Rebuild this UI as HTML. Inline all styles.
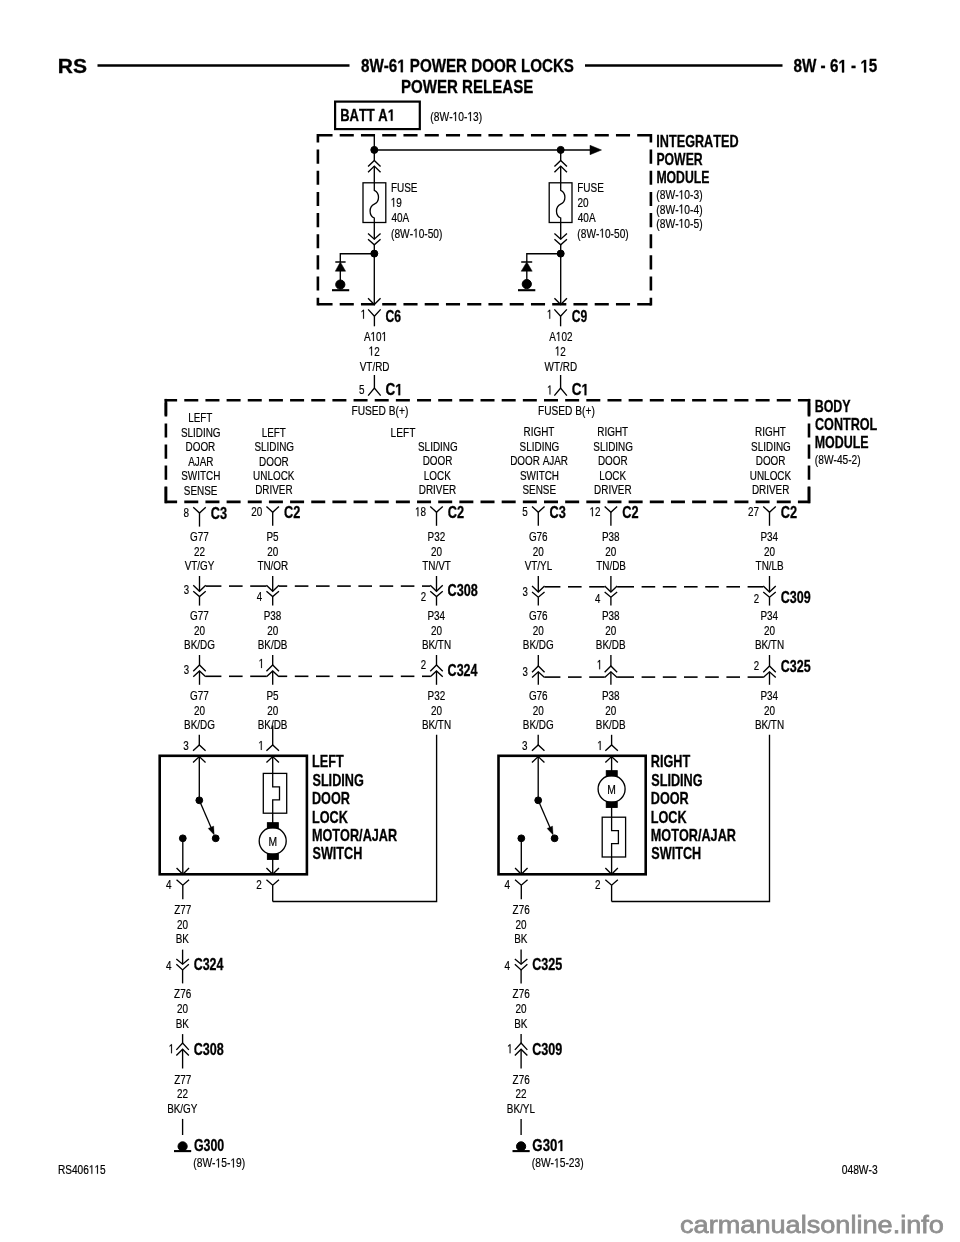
<!DOCTYPE html>
<html><head><meta charset="utf-8"><style>
html,body{margin:0;padding:0;background:#fff;width:960px;height:1242px;overflow:hidden}
svg{display:block;will-change:transform}
line,polyline,polygon,rect,path,circle{stroke:#000;stroke-linecap:butt}
text{font-family:"Liberation Sans",sans-serif;font-kerning:none;fill:#000;stroke:none}
g.r text{stroke:#000;stroke-width:0.2px}
g.b text{font-weight:bold;stroke:#000;stroke-width:0.3px}
path.one{fill:#000;stroke:none}
g.b path.one{stroke:#000;stroke-width:34px}
g.r path.one{stroke:#000;stroke-width:32px}
g.w text{fill:#8f8f8f;stroke:#8f8f8f;stroke-width:0.75px}
</style></head><body>
<svg width="960" height="1242" viewBox="0 0 960 1242">
<g class="b" transform="translate(57.79,72.6) scale(1.0790,1)"><text font-size="19.5">RS</text></g>
<line x1="97.5" y1="65.5" x2="349.5" y2="65.5" stroke-width="2.6"/>
<line x1="585" y1="65.5" x2="782.5" y2="65.5" stroke-width="2.6"/>
<g class="b" transform="translate(361.02,72.2) scale(0.8329,1)"><text font-size="18.2">8W-6  POWER DOOR LOCKS</text><path class="one" d="M478,0 L478,-1170 L140,-959 L140,-1180 L493,-1409 L759,-1409 L759,0Z" transform="translate(43.48,0) scale(0.008887)"/></g>
<g class="b" transform="translate(400.89,93.4) scale(0.8293,1)"><text font-size="18.2">POWER RELEASE</text></g>
<g class="b" transform="translate(793.52,72.4) scale(0.8379,1)"><text font-size="18.2">8W - 6  -  5</text><path class="one" d="M478,0 L478,-1170 L140,-959 L140,-1180 L493,-1409 L759,-1409 L759,0Z" transform="translate(53.6,0) scale(0.008887)"/><path class="one" d="M478,0 L478,-1170 L140,-959 L140,-1180 L493,-1409 L759,-1409 L759,0Z" transform="translate(79.89,0) scale(0.008887)"/></g>
<rect x="335.1" y="101.6" width="84.7" height="27.5" stroke-width="2.2" fill="none"/>
<g class="b" transform="translate(340.13,120.7) scale(0.7974,1)"><text font-size="16.3">BATT A </text><path class="one" d="M478,0 L478,-1170 L140,-959 L140,-1180 L493,-1409 L759,-1409 L759,0Z" transform="translate(59.76,0) scale(0.007959)"/></g>
<g class="r" transform="translate(430.36,121) scale(0.7952,1)"><text font-size="12.9">(8W- 0- 3)</text><path class="one" d="M515,0 L515,-1237 L197,-1010 L197,-1180 L530,-1409 L696,-1409 L696,0Z" transform="translate(27.94,0) scale(0.006299)"/><path class="one" d="M515,0 L515,-1237 L197,-1010 L197,-1180 L530,-1409 L696,-1409 L696,0Z" transform="translate(46.59,0) scale(0.006299)"/></g>
<line x1="316.6" y1="135.3" x2="652.2" y2="135.3" stroke-width="2.6" stroke-dasharray="14.1 7.15" stroke-dashoffset="19.40"/>
<line x1="316.6" y1="304.3" x2="652.2" y2="304.3" stroke-width="2.6" stroke-dasharray="14.1 7.15" stroke-dashoffset="19.40"/>
<line x1="317.9" y1="134" x2="317.9" y2="305.6" stroke-width="2.6" stroke-dasharray="14.1 7.05" stroke-dashoffset="5.55"/>
<line x1="650.9" y1="134" x2="650.9" y2="305.6" stroke-width="2.6" stroke-dasharray="14.1 7.05" stroke-dashoffset="5.55"/>
<line x1="374.3" y1="135.3" x2="374.3" y2="150" stroke-width="1.35"/>
<line x1="374.3" y1="150" x2="590" y2="150" stroke-width="1.35"/>
<polygon points="590,145.3 601.5,150 590,154.7" stroke-width="0.5" fill="#000"/>
<circle cx="374.3" cy="149.9" r="3.5" fill="#000" stroke="none"/>
<circle cx="560.7" cy="149.9" r="3.5" fill="#000" stroke="none"/>
<line x1="374.3" y1="150" x2="374.3" y2="160.4" stroke-width="1.35"/>
<line x1="374.3" y1="166.1" x2="374.3" y2="182.8" stroke-width="1.35"/>
<polyline points="368.05,166.6 374.3,160.4 380.55,166.6" stroke-width="1.35" fill="none"/>
<polyline points="368.05,172.3 374.3,166.1 380.55,172.3" stroke-width="1.35" fill="none"/>
<rect x="363" y="182.8" width="22.8" height="39.7" stroke-width="1.3" fill="none"/>
<path d="M374.3,182.8 V190.3 C379.9,192.9 379.9,201.5 374.3,204.2 C368.7,206.9 368.7,215.4 374.3,218 V222.5" stroke-width="1.3" fill="none" />
<line x1="374.3" y1="222.5" x2="374.3" y2="239.2" stroke-width="1.35"/>
<line x1="374.3" y1="244.8" x2="374.3" y2="304.3" stroke-width="1.35"/>
<polyline points="368.05,233.5 374.3,239.2 380.55,233.5" stroke-width="1.35" fill="none"/>
<polyline points="368.05,239.2 374.3,244.8 380.55,239.2" stroke-width="1.35" fill="none"/>
<circle cx="374.3" cy="253.6" r="3.5" fill="#000" stroke="none"/>
<polyline points="374.3,253.7 340.3,253.7 340.3,262" stroke-width="1.35" fill="none"/>
<line x1="335.3" y1="262" x2="345.6" y2="262" stroke-width="1.5"/>
<polygon points="340.3,262 335.3,271.2 345.6,271.2" stroke-width="0.5" fill="#000"/>
<line x1="340.3" y1="271" x2="340.3" y2="284" stroke-width="1.35"/>
<circle cx="340.3" cy="284.6" r="4.6" fill="#000" stroke="none"/>
<line x1="332" y1="290.2" x2="349.2" y2="290.2" stroke-width="2.1"/>
<polyline points="368.05,298.2 374.3,304.5 380.55,298.2" stroke-width="1.35" fill="none"/>
<g class="r" transform="translate(390.88,192) scale(0.7750,1)"><text font-size="12.9">FUSE</text></g>
<g class="r" transform="translate(390.74,206.8) scale(0.7750,1)"><text font-size="12.9"> 9</text><path class="one" d="M515,0 L515,-1237 L197,-1010 L197,-1180 L530,-1409 L696,-1409 L696,0Z" transform="translate(0,0) scale(0.006299)"/></g>
<g class="r" transform="translate(391.47,222) scale(0.7750,1)"><text font-size="12.9">40A</text></g>
<g class="r" transform="translate(391.07,237.6) scale(0.7874,1)"><text font-size="12.9">(8W- 0-50)</text><path class="one" d="M515,0 L515,-1237 L197,-1010 L197,-1180 L530,-1409 L696,-1409 L696,0Z" transform="translate(27.94,0) scale(0.006299)"/></g>
<line x1="560.7" y1="150" x2="560.7" y2="160.4" stroke-width="1.35"/>
<line x1="560.7" y1="166.1" x2="560.7" y2="182.8" stroke-width="1.35"/>
<polyline points="554.45,166.6 560.7,160.4 566.95,166.6" stroke-width="1.35" fill="none"/>
<polyline points="554.45,172.3 560.7,166.1 566.95,172.3" stroke-width="1.35" fill="none"/>
<rect x="549.2" y="182.8" width="22.8" height="39.7" stroke-width="1.3" fill="none"/>
<path d="M560.7,182.8 V190.3 C566.3,192.9 566.3,201.5 560.7,204.2 C555.1,206.9 555.1,215.4 560.7,218 V222.5" stroke-width="1.3" fill="none" />
<line x1="560.7" y1="222.5" x2="560.7" y2="239.2" stroke-width="1.35"/>
<line x1="560.7" y1="244.8" x2="560.7" y2="304.3" stroke-width="1.35"/>
<polyline points="554.45,233.5 560.7,239.2 566.95,233.5" stroke-width="1.35" fill="none"/>
<polyline points="554.45,239.2 560.7,244.8 566.95,239.2" stroke-width="1.35" fill="none"/>
<circle cx="560.7" cy="253.6" r="3.5" fill="#000" stroke="none"/>
<polyline points="560.7,253.7 526.8,253.7 526.8,262" stroke-width="1.35" fill="none"/>
<line x1="521.2" y1="262" x2="532.2" y2="262" stroke-width="1.5"/>
<polygon points="526.8,262 521.2,271.2 532.2,271.2" stroke-width="0.5" fill="#000"/>
<line x1="526.8" y1="271" x2="526.8" y2="284" stroke-width="1.35"/>
<circle cx="526.8" cy="284.1" r="4.6" fill="#000" stroke="none"/>
<line x1="518" y1="290.2" x2="535.3" y2="290.2" stroke-width="2.1"/>
<polyline points="554.45,298.2 560.7,304.5 566.95,298.2" stroke-width="1.35" fill="none"/>
<g class="r" transform="translate(577.18,192) scale(0.7750,1)"><text font-size="12.9">FUSE</text></g>
<g class="r" transform="translate(577.5,206.8) scale(0.7750,1)"><text font-size="12.9">20</text></g>
<g class="r" transform="translate(577.77,222) scale(0.7750,1)"><text font-size="12.9">40A</text></g>
<g class="r" transform="translate(577.37,237.6) scale(0.7874,1)"><text font-size="12.9">(8W- 0-50)</text><path class="one" d="M515,0 L515,-1237 L197,-1010 L197,-1180 L530,-1409 L696,-1409 L696,0Z" transform="translate(27.94,0) scale(0.006299)"/></g>
<g class="b" transform="translate(656.35,146.6) scale(0.7766,1)"><text font-size="16.3">INTEGRATED</text></g>
<g class="b" transform="translate(656.38,164.7) scale(0.7520,1)"><text font-size="16.3">POWER</text></g>
<g class="b" transform="translate(656.38,182.6) scale(0.7520,1)"><text font-size="16.3">MODULE</text></g>
<g class="r" transform="translate(656.36,199.2) scale(0.7971,1)"><text font-size="12.9">(8W- 0-3)</text><path class="one" d="M515,0 L515,-1237 L197,-1010 L197,-1180 L530,-1409 L696,-1409 L696,0Z" transform="translate(27.94,0) scale(0.006299)"/></g>
<g class="r" transform="translate(656.36,213.5) scale(0.7971,1)"><text font-size="12.9">(8W- 0-4)</text><path class="one" d="M515,0 L515,-1237 L197,-1010 L197,-1180 L530,-1409 L696,-1409 L696,0Z" transform="translate(27.94,0) scale(0.006299)"/></g>
<g class="r" transform="translate(656.36,227.8) scale(0.7971,1)"><text font-size="12.9">(8W- 0-5)</text><path class="one" d="M515,0 L515,-1237 L197,-1010 L197,-1180 L530,-1409 L696,-1409 L696,0Z" transform="translate(27.94,0) scale(0.006299)"/></g>
<polyline points="368.15,309.4 374.4,316.3 380.65,309.4" stroke-width="1.35" fill="none"/>
<line x1="374.4" y1="316.3" x2="374.4" y2="326.3" stroke-width="1.35"/>
<g class="r" transform="translate(360.63,318.7) scale(0.7690,1)"><text font-size="12.9"> </text><path class="one" d="M515,0 L515,-1237 L197,-1010 L197,-1180 L530,-1409 L696,-1409 L696,0Z" transform="translate(0,0) scale(0.006299)"/></g>
<g class="b" transform="translate(385.5,321.8) scale(0.7450,1)"><text font-size="16.3">C6</text></g>
<g class="r" transform="translate(363.88,341) scale(0.7690,1)"><text font-size="12.9">A 0 </text><path class="one" d="M515,0 L515,-1237 L197,-1010 L197,-1180 L530,-1409 L696,-1409 L696,0Z" transform="translate(8.6,0) scale(0.006299)"/><path class="one" d="M515,0 L515,-1237 L197,-1010 L197,-1180 L530,-1409 L696,-1409 L696,0Z" transform="translate(22.95,0) scale(0.006299)"/></g>
<g class="r" transform="translate(368.66,355.5) scale(0.7690,1)"><text font-size="12.9"> 2</text><path class="one" d="M515,0 L515,-1237 L197,-1010 L197,-1180 L530,-1409 L696,-1409 L696,0Z" transform="translate(0,0) scale(0.006299)"/></g>
<g class="r" transform="translate(359.74,370.5) scale(0.7690,1)"><text font-size="12.9">VT/RD</text></g>
<polyline points="368.15,395.6 374.4,388 380.65,395.6" stroke-width="1.35" fill="none"/>
<line x1="374.4" y1="375" x2="374.4" y2="388" stroke-width="1.35"/>
<g class="r" transform="translate(359.1,394.4) scale(0.7690,1)"><text font-size="12.9">5</text></g>
<g class="b" transform="translate(385.45,395.2) scale(0.8283,1)"><text font-size="16.3">C </text><path class="one" d="M478,0 L478,-1170 L140,-959 L140,-1180 L493,-1409 L759,-1409 L759,0Z" transform="translate(11.77,0) scale(0.007959)"/></g>
<polyline points="554.35,309.4 560.6,316.3 566.85,309.4" stroke-width="1.35" fill="none"/>
<line x1="560.6" y1="316.3" x2="560.6" y2="326.3" stroke-width="1.35"/>
<g class="r" transform="translate(546.83,318.7) scale(0.7690,1)"><text font-size="12.9"> </text><path class="one" d="M515,0 L515,-1237 L197,-1010 L197,-1180 L530,-1409 L696,-1409 L696,0Z" transform="translate(0,0) scale(0.006299)"/></g>
<g class="b" transform="translate(571.7,321.8) scale(0.7450,1)"><text font-size="16.3">C9</text></g>
<g class="r" transform="translate(549.26,341) scale(0.7690,1)"><text font-size="12.9">A 02</text><path class="one" d="M515,0 L515,-1237 L197,-1010 L197,-1180 L530,-1409 L696,-1409 L696,0Z" transform="translate(8.6,0) scale(0.006299)"/></g>
<g class="r" transform="translate(554.86,355.5) scale(0.7690,1)"><text font-size="12.9"> 2</text><path class="one" d="M515,0 L515,-1237 L197,-1010 L197,-1180 L530,-1409 L696,-1409 L696,0Z" transform="translate(0,0) scale(0.006299)"/></g>
<g class="r" transform="translate(544.56,370.5) scale(0.7690,1)"><text font-size="12.9">WT/RD</text></g>
<polyline points="554.35,395.6 560.6,388 566.85,395.6" stroke-width="1.35" fill="none"/>
<line x1="560.6" y1="375" x2="560.6" y2="388" stroke-width="1.35"/>
<g class="r" transform="translate(547.03,394.4) scale(0.7690,1)"><text font-size="12.9"> </text><path class="one" d="M515,0 L515,-1237 L197,-1010 L197,-1180 L530,-1409 L696,-1409 L696,0Z" transform="translate(0,0) scale(0.006299)"/></g>
<g class="b" transform="translate(571.65,395.2) scale(0.8283,1)"><text font-size="16.3">C </text><path class="one" d="M478,0 L478,-1170 L140,-959 L140,-1180 L493,-1409 L759,-1409 L759,0Z" transform="translate(11.77,0) scale(0.007959)"/></g>
<g class="r" transform="translate(351.41,415) scale(0.7909,1)"><text font-size="12.9">FUSED B(+)</text></g>
<g class="r" transform="translate(537.96,415) scale(0.7895,1)"><text font-size="12.9">FUSED B(+)</text></g>
<line x1="164.6" y1="400.2" x2="810.3" y2="400.2" stroke-width="2.6" stroke-dasharray="14 7.16" stroke-dashoffset="1.48"/>
<line x1="164.6" y1="501.9" x2="810.3" y2="501.9" stroke-width="2.6" stroke-dasharray="14 7.16" stroke-dashoffset="1.48"/>
<line x1="165.9" y1="398.9" x2="165.9" y2="503.2" stroke-width="2.6" stroke-dasharray="14.1 6.95" stroke-dashoffset="17.50"/>
<line x1="809" y1="398.9" x2="809" y2="503.2" stroke-width="2.6" stroke-dasharray="14.1 6.95" stroke-dashoffset="17.50"/>
<line x1="165.9" y1="398.9" x2="165.9" y2="415.4" stroke-width="2.6"/>
<line x1="165.9" y1="486.6" x2="165.9" y2="503.2" stroke-width="2.6"/>
<line x1="809" y1="398.9" x2="809" y2="415.4" stroke-width="2.6"/>
<line x1="809" y1="486.6" x2="809" y2="503.2" stroke-width="2.6"/>
<g class="r" transform="translate(188.18,422.3) scale(0.7690,1)"><text font-size="12.9">LEFT</text></g>
<g class="r" transform="translate(180.9,436.75) scale(0.7690,1)"><text font-size="12.9">SLIDING</text></g>
<g class="r" transform="translate(185.54,451.2) scale(0.7690,1)"><text font-size="12.9">DOOR</text></g>
<g class="r" transform="translate(188.14,465.65) scale(0.7690,1)"><text font-size="12.9">AJAR</text></g>
<g class="r" transform="translate(181.22,480.1) scale(0.7690,1)"><text font-size="12.9">SWITCH</text></g>
<g class="r" transform="translate(183.77,494.55) scale(0.7690,1)"><text font-size="12.9">SENSE</text></g>
<g class="r" transform="translate(261.68,436.6) scale(0.7690,1)"><text font-size="12.9">LEFT</text></g>
<g class="r" transform="translate(254.4,451.05) scale(0.7690,1)"><text font-size="12.9">SLIDING</text></g>
<g class="r" transform="translate(259.04,465.5) scale(0.7690,1)"><text font-size="12.9">DOOR</text></g>
<g class="r" transform="translate(253.1,479.95) scale(0.7690,1)"><text font-size="12.9">UNLOCK</text></g>
<g class="r" transform="translate(255.18,494.4) scale(0.7690,1)"><text font-size="12.9">DRIVER</text></g>
<g class="r" transform="translate(390.57,436.6) scale(0.7885,1)"><text font-size="12.9">LEFT</text></g>
<g class="r" transform="translate(418,450.9) scale(0.7690,1)"><text font-size="12.9">SLIDING</text></g>
<g class="r" transform="translate(422.64,465.35) scale(0.7690,1)"><text font-size="12.9">DOOR</text></g>
<g class="r" transform="translate(423.84,479.8) scale(0.7690,1)"><text font-size="12.9">LOCK</text></g>
<g class="r" transform="translate(418.78,494.25) scale(0.7690,1)"><text font-size="12.9">DRIVER</text></g>
<g class="r" transform="translate(523.58,436.3) scale(0.7690,1)"><text font-size="12.9">RIGHT</text></g>
<g class="r" transform="translate(519.6,450.75) scale(0.7690,1)"><text font-size="12.9">SLIDING</text></g>
<g class="r" transform="translate(510.19,465.2) scale(0.7690,1)"><text font-size="12.9">DOOR AJAR</text></g>
<g class="r" transform="translate(519.92,479.65) scale(0.7690,1)"><text font-size="12.9">SWITCH</text></g>
<g class="r" transform="translate(522.47,494.1) scale(0.7690,1)"><text font-size="12.9">SENSE</text></g>
<g class="r" transform="translate(597.28,436.3) scale(0.7690,1)"><text font-size="12.9">RIGHT</text></g>
<g class="r" transform="translate(593.3,450.75) scale(0.7690,1)"><text font-size="12.9">SLIDING</text></g>
<g class="r" transform="translate(597.94,465.2) scale(0.7690,1)"><text font-size="12.9">DOOR</text></g>
<g class="r" transform="translate(599.14,479.65) scale(0.7690,1)"><text font-size="12.9">LOCK</text></g>
<g class="r" transform="translate(594.08,494.1) scale(0.7690,1)"><text font-size="12.9">DRIVER</text></g>
<g class="r" transform="translate(755.08,436.3) scale(0.7690,1)"><text font-size="12.9">RIGHT</text></g>
<g class="r" transform="translate(751.1,450.75) scale(0.7690,1)"><text font-size="12.9">SLIDING</text></g>
<g class="r" transform="translate(755.74,465.2) scale(0.7690,1)"><text font-size="12.9">DOOR</text></g>
<g class="r" transform="translate(749.8,479.65) scale(0.7690,1)"><text font-size="12.9">UNLOCK</text></g>
<g class="r" transform="translate(751.88,494.1) scale(0.7690,1)"><text font-size="12.9">DRIVER</text></g>
<g class="b" transform="translate(814.67,411.7) scale(0.7640,1)"><text font-size="16.3">BODY</text></g>
<g class="b" transform="translate(814.98,429.9) scale(0.7744,1)"><text font-size="16.3">CONTROL</text></g>
<g class="b" transform="translate(814.67,447.6) scale(0.7640,1)"><text font-size="16.3">MODULE</text></g>
<g class="r" transform="translate(814.87,464.1) scale(0.7882,1)"><text font-size="12.9">(8W-45-2)</text></g>
<polyline points="193.25,507.2 199.5,513.1 205.75,507.2" stroke-width="1.35" fill="none"/>
<line x1="199.5" y1="513.1" x2="199.5" y2="526.6" stroke-width="1.35"/>
<g class="r" transform="translate(183.51,517) scale(0.7690,1)"><text font-size="12.9">8</text></g>
<g class="b" transform="translate(210.78,519.2) scale(0.7814,1)"><text font-size="16.3">C3</text></g>
<polyline points="266.45,506.4 272.7,512.3 278.95,506.4" stroke-width="1.35" fill="none"/>
<line x1="272.7" y1="512.3" x2="272.7" y2="525.8" stroke-width="1.35"/>
<g class="r" transform="translate(251.15,516.2) scale(0.7690,1)"><text font-size="12.9">20</text></g>
<g class="b" transform="translate(283.98,518.4) scale(0.7840,1)"><text font-size="16.3">C2</text></g>
<polyline points="430.25,506.4 436.5,512.3 442.75,506.4" stroke-width="1.35" fill="none"/>
<line x1="436.5" y1="512.3" x2="436.5" y2="525.8" stroke-width="1.35"/>
<g class="r" transform="translate(415,516.2) scale(0.7690,1)"><text font-size="12.9"> 8</text><path class="one" d="M515,0 L515,-1237 L197,-1010 L197,-1180 L530,-1409 L696,-1409 L696,0Z" transform="translate(0,0) scale(0.006299)"/></g>
<g class="b" transform="translate(447.78,518.4) scale(0.7840,1)"><text font-size="16.3">C2</text></g>
<polyline points="532.05,506.4 538.3,512.3 544.55,506.4" stroke-width="1.35" fill="none"/>
<line x1="538.3" y1="512.3" x2="538.3" y2="525.8" stroke-width="1.35"/>
<g class="r" transform="translate(522.3,516.2) scale(0.7690,1)"><text font-size="12.9">5</text></g>
<g class="b" transform="translate(549.58,518.4) scale(0.7814,1)"><text font-size="16.3">C3</text></g>
<polyline points="604.65,506.4 610.9,512.3 617.15,506.4" stroke-width="1.35" fill="none"/>
<line x1="610.9" y1="512.3" x2="610.9" y2="525.8" stroke-width="1.35"/>
<g class="r" transform="translate(589.46,516.2) scale(0.7690,1)"><text font-size="12.9"> 2</text><path class="one" d="M515,0 L515,-1237 L197,-1010 L197,-1180 L530,-1409 L696,-1409 L696,0Z" transform="translate(0,0) scale(0.006299)"/></g>
<g class="b" transform="translate(622.18,518.4) scale(0.7840,1)"><text font-size="16.3">C2</text></g>
<polyline points="763.25,506.4 769.5,512.3 775.75,506.4" stroke-width="1.35" fill="none"/>
<line x1="769.5" y1="512.3" x2="769.5" y2="525.8" stroke-width="1.35"/>
<g class="r" transform="translate(748.06,516.2) scale(0.7690,1)"><text font-size="12.9">27</text></g>
<g class="b" transform="translate(780.78,518.4) scale(0.7840,1)"><text font-size="16.3">C2</text></g>
<g class="r" transform="translate(190.12,541.3) scale(0.7690,1)"><text font-size="12.9">G77</text></g>
<g class="r" transform="translate(193.98,556) scale(0.7690,1)"><text font-size="12.9">22</text></g>
<g class="r" transform="translate(184.7,570.2) scale(0.7690,1)"><text font-size="12.9">VT/GY</text></g>
<g class="r" transform="translate(266.43,541.3) scale(0.7690,1)"><text font-size="12.9">P5</text></g>
<g class="r" transform="translate(267.13,556) scale(0.7690,1)"><text font-size="12.9">20</text></g>
<g class="r" transform="translate(257.39,570.2) scale(0.7690,1)"><text font-size="12.9">TN/OR</text></g>
<g class="r" transform="translate(427.52,541.3) scale(0.7690,1)"><text font-size="12.9">P32</text></g>
<g class="r" transform="translate(430.93,556) scale(0.7690,1)"><text font-size="12.9">20</text></g>
<g class="r" transform="translate(422.17,570.2) scale(0.7690,1)"><text font-size="12.9">TN/VT</text></g>
<g class="r" transform="translate(528.89,541.3) scale(0.7690,1)"><text font-size="12.9">G76</text></g>
<g class="r" transform="translate(532.73,556) scale(0.7690,1)"><text font-size="12.9">20</text></g>
<g class="r" transform="translate(524.66,570.2) scale(0.7690,1)"><text font-size="12.9">VT/YL</text></g>
<g class="r" transform="translate(601.88,541.3) scale(0.7690,1)"><text font-size="12.9">P38</text></g>
<g class="r" transform="translate(605.33,556) scale(0.7690,1)"><text font-size="12.9">20</text></g>
<g class="r" transform="translate(596.17,570.2) scale(0.7690,1)"><text font-size="12.9">TN/DB</text></g>
<g class="r" transform="translate(760.41,541.3) scale(0.7690,1)"><text font-size="12.9">P34</text></g>
<g class="r" transform="translate(763.93,556) scale(0.7690,1)"><text font-size="12.9">20</text></g>
<g class="r" transform="translate(755.59,570.2) scale(0.7690,1)"><text font-size="12.9">TN/LB</text></g>
<g class="r" transform="translate(190.12,620.3) scale(0.7690,1)"><text font-size="12.9">G77</text></g>
<g class="r" transform="translate(193.93,635) scale(0.7690,1)"><text font-size="12.9">20</text></g>
<g class="r" transform="translate(184.03,649.4) scale(0.7690,1)"><text font-size="12.9">BK/DG</text></g>
<g class="r" transform="translate(263.68,620.3) scale(0.7690,1)"><text font-size="12.9">P38</text></g>
<g class="r" transform="translate(267.13,635) scale(0.7690,1)"><text font-size="12.9">20</text></g>
<g class="r" transform="translate(257.67,649.4) scale(0.7690,1)"><text font-size="12.9">BK/DB</text></g>
<g class="r" transform="translate(427.41,620.3) scale(0.7690,1)"><text font-size="12.9">P34</text></g>
<g class="r" transform="translate(430.93,635) scale(0.7690,1)"><text font-size="12.9">20</text></g>
<g class="r" transform="translate(421.89,649.4) scale(0.7690,1)"><text font-size="12.9">BK/TN</text></g>
<g class="r" transform="translate(528.89,620.3) scale(0.7690,1)"><text font-size="12.9">G76</text></g>
<g class="r" transform="translate(532.73,635) scale(0.7690,1)"><text font-size="12.9">20</text></g>
<g class="r" transform="translate(522.83,649.4) scale(0.7690,1)"><text font-size="12.9">BK/DG</text></g>
<g class="r" transform="translate(601.88,620.3) scale(0.7690,1)"><text font-size="12.9">P38</text></g>
<g class="r" transform="translate(605.33,635) scale(0.7690,1)"><text font-size="12.9">20</text></g>
<g class="r" transform="translate(595.87,649.4) scale(0.7690,1)"><text font-size="12.9">BK/DB</text></g>
<g class="r" transform="translate(760.41,620.3) scale(0.7690,1)"><text font-size="12.9">P34</text></g>
<g class="r" transform="translate(763.93,635) scale(0.7690,1)"><text font-size="12.9">20</text></g>
<g class="r" transform="translate(754.89,649.4) scale(0.7690,1)"><text font-size="12.9">BK/TN</text></g>
<g class="r" transform="translate(190.12,699.8) scale(0.7690,1)"><text font-size="12.9">G77</text></g>
<g class="r" transform="translate(193.93,714.5) scale(0.7690,1)"><text font-size="12.9">20</text></g>
<g class="r" transform="translate(184.03,728.9) scale(0.7690,1)"><text font-size="12.9">BK/DG</text></g>
<g class="r" transform="translate(266.43,699.8) scale(0.7690,1)"><text font-size="12.9">P5</text></g>
<g class="r" transform="translate(267.13,714.5) scale(0.7690,1)"><text font-size="12.9">20</text></g>
<g class="r" transform="translate(257.67,728.9) scale(0.7690,1)"><text font-size="12.9">BK/DB</text></g>
<g class="r" transform="translate(427.52,699.8) scale(0.7690,1)"><text font-size="12.9">P32</text></g>
<g class="r" transform="translate(430.93,714.5) scale(0.7690,1)"><text font-size="12.9">20</text></g>
<g class="r" transform="translate(421.89,728.9) scale(0.7690,1)"><text font-size="12.9">BK/TN</text></g>
<g class="r" transform="translate(528.89,699.8) scale(0.7690,1)"><text font-size="12.9">G76</text></g>
<g class="r" transform="translate(532.73,714.5) scale(0.7690,1)"><text font-size="12.9">20</text></g>
<g class="r" transform="translate(522.83,728.9) scale(0.7690,1)"><text font-size="12.9">BK/DG</text></g>
<g class="r" transform="translate(601.88,699.8) scale(0.7690,1)"><text font-size="12.9">P38</text></g>
<g class="r" transform="translate(605.33,714.5) scale(0.7690,1)"><text font-size="12.9">20</text></g>
<g class="r" transform="translate(595.87,728.9) scale(0.7690,1)"><text font-size="12.9">BK/DB</text></g>
<g class="r" transform="translate(760.41,699.8) scale(0.7690,1)"><text font-size="12.9">P34</text></g>
<g class="r" transform="translate(763.93,714.5) scale(0.7690,1)"><text font-size="12.9">20</text></g>
<g class="r" transform="translate(754.89,728.9) scale(0.7690,1)"><text font-size="12.9">BK/TN</text></g>
<line x1="199.5" y1="576" x2="199.5" y2="591.25" stroke-width="1.35"/>
<polyline points="193.25,585.35 199.5,591.25 205.75,585.35" stroke-width="1.35" fill="none"/>
<polyline points="193.25,591.25 199.5,596.5 205.75,591.25" stroke-width="1.35" fill="none"/>
<line x1="199.5" y1="596.5" x2="199.5" y2="605.6" stroke-width="1.35"/>
<line x1="272.7" y1="576" x2="272.7" y2="591.25" stroke-width="1.35"/>
<polyline points="266.45,585.35 272.7,591.25 278.95,585.35" stroke-width="1.35" fill="none"/>
<polyline points="266.45,591.25 272.7,596.5 278.95,591.25" stroke-width="1.35" fill="none"/>
<line x1="272.7" y1="596.5" x2="272.7" y2="605.6" stroke-width="1.35"/>
<line x1="436.5" y1="576" x2="436.5" y2="591.25" stroke-width="1.35"/>
<polyline points="430.25,585.35 436.5,591.25 442.75,585.35" stroke-width="1.35" fill="none"/>
<polyline points="430.25,591.25 436.5,596.5 442.75,591.25" stroke-width="1.35" fill="none"/>
<line x1="436.5" y1="596.5" x2="436.5" y2="605.6" stroke-width="1.35"/>
<line x1="538.3" y1="576" x2="538.3" y2="591.95" stroke-width="1.35"/>
<polyline points="532.05,586.05 538.3,591.95 544.55,586.05" stroke-width="1.35" fill="none"/>
<polyline points="532.05,591.95 538.3,597.2 544.55,591.95" stroke-width="1.35" fill="none"/>
<line x1="538.3" y1="597.2" x2="538.3" y2="605.6" stroke-width="1.35"/>
<line x1="610.9" y1="576" x2="610.9" y2="591.95" stroke-width="1.35"/>
<polyline points="604.65,586.05 610.9,591.95 617.15,586.05" stroke-width="1.35" fill="none"/>
<polyline points="604.65,591.95 610.9,597.2 617.15,591.95" stroke-width="1.35" fill="none"/>
<line x1="610.9" y1="597.2" x2="610.9" y2="605.6" stroke-width="1.35"/>
<line x1="769.5" y1="576" x2="769.5" y2="591.95" stroke-width="1.35"/>
<polyline points="763.25,586.05 769.5,591.95 775.75,586.05" stroke-width="1.35" fill="none"/>
<polyline points="763.25,591.95 769.5,597.2 775.75,591.95" stroke-width="1.35" fill="none"/>
<line x1="769.5" y1="597.2" x2="769.5" y2="605.6" stroke-width="1.35"/>
<polyline points="193.25,671.25 199.5,665.05 205.75,671.25" stroke-width="1.35" fill="none"/>
<line x1="199.5" y1="655" x2="199.5" y2="665.05" stroke-width="1.35"/>
<polyline points="193.25,676.7 199.5,670.9 205.75,676.7" stroke-width="1.35" fill="none"/>
<line x1="199.5" y1="670.9" x2="199.5" y2="684.8" stroke-width="1.35"/>
<polyline points="266.45,671.25 272.7,665.05 278.95,671.25" stroke-width="1.35" fill="none"/>
<line x1="272.7" y1="655" x2="272.7" y2="665.05" stroke-width="1.35"/>
<polyline points="266.45,676.7 272.7,670.9 278.95,676.7" stroke-width="1.35" fill="none"/>
<line x1="272.7" y1="670.9" x2="272.7" y2="684.8" stroke-width="1.35"/>
<polyline points="430.25,671.25 436.5,665.05 442.75,671.25" stroke-width="1.35" fill="none"/>
<line x1="436.5" y1="655" x2="436.5" y2="665.05" stroke-width="1.35"/>
<polyline points="430.25,676.7 436.5,670.9 442.75,676.7" stroke-width="1.35" fill="none"/>
<line x1="436.5" y1="670.9" x2="436.5" y2="684.8" stroke-width="1.35"/>
<polyline points="532.05,672.15 538.3,665.95 544.55,672.15" stroke-width="1.35" fill="none"/>
<line x1="538.3" y1="655" x2="538.3" y2="665.95" stroke-width="1.35"/>
<polyline points="532.05,677.6 538.3,671.8 544.55,677.6" stroke-width="1.35" fill="none"/>
<line x1="538.3" y1="671.8" x2="538.3" y2="684.8" stroke-width="1.35"/>
<polyline points="604.65,672.15 610.9,665.95 617.15,672.15" stroke-width="1.35" fill="none"/>
<line x1="610.9" y1="655" x2="610.9" y2="665.95" stroke-width="1.35"/>
<polyline points="604.65,677.6 610.9,671.8 617.15,677.6" stroke-width="1.35" fill="none"/>
<line x1="610.9" y1="671.8" x2="610.9" y2="684.8" stroke-width="1.35"/>
<polyline points="763.25,672.15 769.5,665.95 775.75,672.15" stroke-width="1.35" fill="none"/>
<line x1="769.5" y1="655" x2="769.5" y2="665.95" stroke-width="1.35"/>
<polyline points="763.25,677.6 769.5,671.8 775.75,677.6" stroke-width="1.35" fill="none"/>
<line x1="769.5" y1="671.8" x2="769.5" y2="684.8" stroke-width="1.35"/>
<line x1="205.75" y1="586.1" x2="221.4" y2="586.1" stroke-width="1.6"/>
<line x1="229" y1="586.1" x2="242.6" y2="586.1" stroke-width="1.6"/>
<line x1="250.2" y1="586.1" x2="266.45" y2="586.1" stroke-width="1.6"/>
<line x1="278.95" y1="586.1" x2="287.2" y2="586.1" stroke-width="1.6"/>
<line x1="294.8" y1="586.1" x2="308.4" y2="586.1" stroke-width="1.6"/>
<line x1="316" y1="586.1" x2="329.6" y2="586.1" stroke-width="1.6"/>
<line x1="337.2" y1="586.1" x2="350.8" y2="586.1" stroke-width="1.6"/>
<line x1="358.4" y1="586.1" x2="372" y2="586.1" stroke-width="1.6"/>
<line x1="379.6" y1="586.1" x2="393.2" y2="586.1" stroke-width="1.6"/>
<line x1="400.8" y1="586.1" x2="414.4" y2="586.1" stroke-width="1.6"/>
<line x1="422" y1="586.1" x2="430.25" y2="586.1" stroke-width="1.6"/>
<line x1="544.55" y1="586.8" x2="560.4" y2="586.8" stroke-width="1.6"/>
<line x1="568" y1="586.8" x2="581.6" y2="586.8" stroke-width="1.6"/>
<line x1="589.2" y1="586.8" x2="604.65" y2="586.8" stroke-width="1.6"/>
<line x1="617.15" y1="586.8" x2="634" y2="586.8" stroke-width="1.6"/>
<line x1="641.6" y1="586.8" x2="655.2" y2="586.8" stroke-width="1.6"/>
<line x1="662.8" y1="586.8" x2="676.4" y2="586.8" stroke-width="1.6"/>
<line x1="684" y1="586.8" x2="697.6" y2="586.8" stroke-width="1.6"/>
<line x1="705.2" y1="586.8" x2="718.8" y2="586.8" stroke-width="1.6"/>
<line x1="726.4" y1="586.8" x2="740" y2="586.8" stroke-width="1.6"/>
<line x1="747.6" y1="586.8" x2="763.25" y2="586.8" stroke-width="1.6"/>
<line x1="205.75" y1="676.3" x2="221.4" y2="676.3" stroke-width="1.6"/>
<line x1="229" y1="676.3" x2="242.6" y2="676.3" stroke-width="1.6"/>
<line x1="250.2" y1="676.3" x2="266.45" y2="676.3" stroke-width="1.6"/>
<line x1="278.95" y1="676.3" x2="287.2" y2="676.3" stroke-width="1.6"/>
<line x1="294.8" y1="676.3" x2="308.4" y2="676.3" stroke-width="1.6"/>
<line x1="316" y1="676.3" x2="329.6" y2="676.3" stroke-width="1.6"/>
<line x1="337.2" y1="676.3" x2="350.8" y2="676.3" stroke-width="1.6"/>
<line x1="358.4" y1="676.3" x2="372" y2="676.3" stroke-width="1.6"/>
<line x1="379.6" y1="676.3" x2="393.2" y2="676.3" stroke-width="1.6"/>
<line x1="400.8" y1="676.3" x2="414.4" y2="676.3" stroke-width="1.6"/>
<line x1="422" y1="676.3" x2="430.25" y2="676.3" stroke-width="1.6"/>
<line x1="544.55" y1="677.1" x2="560.4" y2="677.1" stroke-width="1.6"/>
<line x1="568" y1="677.1" x2="581.6" y2="677.1" stroke-width="1.6"/>
<line x1="589.2" y1="677.1" x2="604.65" y2="677.1" stroke-width="1.6"/>
<line x1="617.15" y1="677.1" x2="634" y2="677.1" stroke-width="1.6"/>
<line x1="641.6" y1="677.1" x2="655.2" y2="677.1" stroke-width="1.6"/>
<line x1="662.8" y1="677.1" x2="676.4" y2="677.1" stroke-width="1.6"/>
<line x1="684" y1="677.1" x2="697.6" y2="677.1" stroke-width="1.6"/>
<line x1="705.2" y1="677.1" x2="718.8" y2="677.1" stroke-width="1.6"/>
<line x1="726.4" y1="677.1" x2="740" y2="677.1" stroke-width="1.6"/>
<line x1="747.6" y1="677.1" x2="763.25" y2="677.1" stroke-width="1.6"/>
<g class="r" transform="translate(183.76,594.4) scale(0.7200,1)"><text font-size="13.4">3</text></g>
<g class="r" transform="translate(522.56,595.5) scale(0.7200,1)"><text font-size="13.4">3</text></g>
<g class="r" transform="translate(256.82,600.6) scale(0.7200,1)"><text font-size="13.4">4</text></g>
<g class="r" transform="translate(595.02,602.6) scale(0.7200,1)"><text font-size="13.4">4</text></g>
<g class="r" transform="translate(420.82,600.6) scale(0.7200,1)"><text font-size="13.4">2</text></g>
<g class="r" transform="translate(753.82,602.5) scale(0.7200,1)"><text font-size="13.4">2</text></g>
<g class="b" transform="translate(447.58,595.6) scale(0.7778,1)"><text font-size="16.3">C308</text></g>
<g class="b" transform="translate(780.74,602.5) scale(0.7694,1)"><text font-size="16.3">C309</text></g>
<g class="r" transform="translate(183.76,674.4) scale(0.7200,1)"><text font-size="13.4">3</text></g>
<g class="r" transform="translate(522.56,675.5) scale(0.7200,1)"><text font-size="13.4">3</text></g>
<g class="r" transform="translate(258.62,668.1) scale(0.7200,1)"><text font-size="13.4"> </text><path class="one" d="M515,0 L515,-1237 L197,-1010 L197,-1180 L530,-1409 L696,-1409 L696,0Z" transform="translate(0,0) scale(0.006543)"/></g>
<g class="r" transform="translate(596.82,669.3) scale(0.7200,1)"><text font-size="13.4"> </text><path class="one" d="M515,0 L515,-1237 L197,-1010 L197,-1180 L530,-1409 L696,-1409 L696,0Z" transform="translate(0,0) scale(0.006543)"/></g>
<g class="r" transform="translate(420.82,668.5) scale(0.7200,1)"><text font-size="13.4">2</text></g>
<g class="r" transform="translate(753.82,669.7) scale(0.7200,1)"><text font-size="13.4">2</text></g>
<g class="b" transform="translate(447.59,676) scale(0.7694,1)"><text font-size="16.3">C324</text></g>
<g class="b" transform="translate(780.74,672.2) scale(0.7663,1)"><text font-size="16.3">C325</text></g>
<rect x="159.7" y="755.8" width="147.2" height="118.5" stroke-width="2.6" fill="none"/>
<line x1="199.3" y1="734.8" x2="199.3" y2="745" stroke-width="1.35"/>
<polyline points="193.05,750.7 199.3,745 205.55,750.7" stroke-width="1.35" fill="none"/>
<g class="r" transform="translate(183.22,749.9) scale(0.7690,1)"><text font-size="12.9">3</text></g>
<polyline points="193.05,762.5 199.3,756.6 205.55,762.5" stroke-width="1.35" fill="none"/>
<line x1="272.7" y1="725.4" x2="272.7" y2="745" stroke-width="1.35"/>
<polyline points="266.45,750.7 272.7,745 278.95,750.7" stroke-width="1.35" fill="none"/>
<g class="r" transform="translate(258.33,749.9) scale(0.7690,1)"><text font-size="12.9"> </text><path class="one" d="M515,0 L515,-1237 L197,-1010 L197,-1180 L530,-1409 L696,-1409 L696,0Z" transform="translate(0,0) scale(0.006299)"/></g>
<polyline points="266.45,762.5 272.7,756.6 278.95,762.5" stroke-width="1.35" fill="none"/>
<line x1="199.3" y1="756.6" x2="199.3" y2="800.3" stroke-width="1.35"/>
<circle cx="199.3" cy="800.3" r="3.4" fill="#000" stroke="none"/>
<line x1="199.3" y1="800.3" x2="212.69" y2="831.32" stroke-width="1.3"/>
<polygon points="214.27,834.99 208.15,828.38 213.66,826" stroke-width="0.3" fill="#000"/>
<circle cx="215.7" cy="838.3" r="3.4" fill="#000" stroke="none"/>
<circle cx="182.8" cy="838.3" r="3.4" fill="#000" stroke="none"/>
<line x1="182.8" y1="838.3" x2="182.8" y2="874.3" stroke-width="1.35"/>
<polyline points="176.55,868.1 182.8,874.3 189.05,868.1" stroke-width="1.35" fill="none"/>
<line x1="272.7" y1="756.6" x2="272.7" y2="874.3" stroke-width="1.35"/>
<polyline points="266.45,868.1 272.7,874.3 278.95,868.1" stroke-width="1.35" fill="none"/>
<rect x="263.3" y="773.4" width="23.4" height="39.8" fill="#fff" stroke-width="1.3"/>
<polyline points="272.7,773.4 272.7,786.9 279.5,786.9 279.5,799.8 272.7,799.8 272.7,813.2" stroke-width="1.3" fill="none"/>
<circle cx="272.7" cy="841" r="13.5" fill="#fff" stroke-width="1.35"/>
<rect x="267.4" y="822.7" width="10.9" height="5.3" fill="#000" stroke="none"/>
<rect x="267.4" y="853.9" width="10.9" height="5.5" fill="#000" stroke="none"/>
<g class="r" transform="translate(268.4,846) scale(0.8200,1)"><text font-size="12.6">M</text></g>
<polyline points="176.55,879.7 182.8,885.2 189.05,879.7" stroke-width="1.35" fill="none"/>
<line x1="182.8" y1="885.2" x2="182.8" y2="899.3" stroke-width="1.35"/>
<g class="r" transform="translate(166.07,889.4) scale(0.7690,1)"><text font-size="12.9">4</text></g>
<polyline points="266.45,879.7 272.7,885.2 278.95,879.7" stroke-width="1.35" fill="none"/>
<line x1="272.7" y1="885.2" x2="272.7" y2="901.5" stroke-width="1.35"/>
<g class="r" transform="translate(256.18,889.4) scale(0.7690,1)"><text font-size="12.9">2</text></g>
<polyline points="272.7,901.5 436.6,901.5 436.6,734.8" stroke-width="1.35" fill="none"/>
<g class="b" transform="translate(311.95,766.7) scale(0.7780,1)"><text font-size="16.3">LEFT</text></g>
<g class="b" transform="translate(312.43,785.8) scale(0.7780,1)"><text font-size="16.3">SLIDING</text></g>
<g class="b" transform="translate(311.95,804.4) scale(0.7780,1)"><text font-size="16.3">DOOR</text></g>
<g class="b" transform="translate(311.95,822.7) scale(0.7780,1)"><text font-size="16.3">LOCK</text></g>
<g class="b" transform="translate(311.95,840.7) scale(0.7780,1)"><text font-size="16.3">MOTOR/AJAR</text></g>
<g class="b" transform="translate(312.43,859.1) scale(0.7780,1)"><text font-size="16.3">SWITCH</text></g>
<rect x="498.5" y="755.8" width="147.2" height="118.5" stroke-width="2.6" fill="none"/>
<line x1="538.2" y1="734.8" x2="538.2" y2="745" stroke-width="1.35"/>
<polyline points="531.95,750.7 538.2,745 544.45,750.7" stroke-width="1.35" fill="none"/>
<g class="r" transform="translate(522.12,749.9) scale(0.7690,1)"><text font-size="12.9">3</text></g>
<polyline points="531.95,762.5 538.2,756.6 544.45,762.5" stroke-width="1.35" fill="none"/>
<line x1="611.6" y1="734.8" x2="611.6" y2="745" stroke-width="1.35"/>
<polyline points="605.35,750.7 611.6,745 617.85,750.7" stroke-width="1.35" fill="none"/>
<g class="r" transform="translate(597.23,749.9) scale(0.7690,1)"><text font-size="12.9"> </text><path class="one" d="M515,0 L515,-1237 L197,-1010 L197,-1180 L530,-1409 L696,-1409 L696,0Z" transform="translate(0,0) scale(0.006299)"/></g>
<polyline points="605.35,762.5 611.6,756.6 617.85,762.5" stroke-width="1.35" fill="none"/>
<line x1="538.2" y1="756.6" x2="538.2" y2="800.3" stroke-width="1.35"/>
<circle cx="538.2" cy="800.3" r="3.4" fill="#000" stroke="none"/>
<line x1="538.2" y1="800.3" x2="551.59" y2="831.32" stroke-width="1.3"/>
<polygon points="553.17,834.99 547.05,828.38 552.56,826" stroke-width="0.3" fill="#000"/>
<circle cx="554.6" cy="838.3" r="3.4" fill="#000" stroke="none"/>
<circle cx="521.3" cy="838.3" r="3.4" fill="#000" stroke="none"/>
<line x1="521.3" y1="838.3" x2="521.3" y2="874.3" stroke-width="1.35"/>
<polyline points="515.05,868.1 521.3,874.3 527.55,868.1" stroke-width="1.35" fill="none"/>
<line x1="611.6" y1="756.6" x2="611.6" y2="874.3" stroke-width="1.35"/>
<polyline points="605.35,868.1 611.6,874.3 617.85,868.1" stroke-width="1.35" fill="none"/>
<circle cx="611.6" cy="789" r="13.5" fill="#fff" stroke-width="1.35"/>
<rect x="606.3" y="770.7" width="10.9" height="5.3" fill="#000" stroke="none"/>
<rect x="606.3" y="801.9" width="10.9" height="5.5" fill="#000" stroke="none"/>
<g class="r" transform="translate(607.3,794) scale(0.8200,1)"><text font-size="12.6">M</text></g>
<rect x="602.2" y="817.2" width="23.4" height="39.8" fill="#fff" stroke-width="1.3"/>
<polyline points="611.6,817.2 611.6,830.7 618.4,830.7 618.4,843.6 611.6,843.6 611.6,857" stroke-width="1.3" fill="none"/>
<polyline points="515.05,879.7 521.3,885.2 527.55,879.7" stroke-width="1.35" fill="none"/>
<line x1="521.3" y1="885.2" x2="521.3" y2="899.3" stroke-width="1.35"/>
<g class="r" transform="translate(504.57,889.4) scale(0.7690,1)"><text font-size="12.9">4</text></g>
<polyline points="605.35,879.7 611.6,885.2 617.85,879.7" stroke-width="1.35" fill="none"/>
<line x1="611.6" y1="885.2" x2="611.6" y2="901.5" stroke-width="1.35"/>
<g class="r" transform="translate(595.08,889.4) scale(0.7690,1)"><text font-size="12.9">2</text></g>
<polyline points="611.6,901.5 769.5,901.5 769.5,734.8" stroke-width="1.35" fill="none"/>
<g class="b" transform="translate(650.75,766.7) scale(0.7780,1)"><text font-size="16.3">RIGHT</text></g>
<g class="b" transform="translate(651.23,785.8) scale(0.7780,1)"><text font-size="16.3">SLIDING</text></g>
<g class="b" transform="translate(650.75,804.4) scale(0.7780,1)"><text font-size="16.3">DOOR</text></g>
<g class="b" transform="translate(650.75,822.7) scale(0.7780,1)"><text font-size="16.3">LOCK</text></g>
<g class="b" transform="translate(650.75,840.7) scale(0.7780,1)"><text font-size="16.3">MOTOR/AJAR</text></g>
<g class="b" transform="translate(651.23,859.1) scale(0.7780,1)"><text font-size="16.3">SWITCH</text></g>
<g class="r" transform="translate(174.15,913.7) scale(0.7690,1)"><text font-size="12.9">Z77</text></g>
<g class="r" transform="translate(177.03,928.9) scale(0.7690,1)"><text font-size="12.9">20</text></g>
<g class="r" transform="translate(175.63,943.4) scale(0.7690,1)"><text font-size="12.9">BK</text></g>
<line x1="182.6" y1="949.6" x2="182.6" y2="964.2" stroke-width="1.35"/>
<polyline points="176.35,958.9 182.6,964.2 188.85,958.9" stroke-width="1.35" fill="none"/>
<polyline points="176.35,964.2 182.6,969.9 188.85,964.2" stroke-width="1.35" fill="none"/>
<line x1="182.6" y1="969.9" x2="182.6" y2="983.4" stroke-width="1.35"/>
<g class="r" transform="translate(166.07,969.5) scale(0.7690,1)"><text font-size="12.9">4</text></g>
<g class="b" transform="translate(193.69,970.4) scale(0.7642,1)"><text font-size="16.3">C324</text></g>
<g class="r" transform="translate(174.11,998.4) scale(0.7690,1)"><text font-size="12.9">Z76</text></g>
<g class="r" transform="translate(177.03,1013.2) scale(0.7690,1)"><text font-size="12.9">20</text></g>
<g class="r" transform="translate(175.63,1027.7) scale(0.7690,1)"><text font-size="12.9">BK</text></g>
<polyline points="176.35,1049.9 182.6,1043.1 188.85,1049.9" stroke-width="1.35" fill="none"/>
<line x1="182.6" y1="1034.1" x2="182.6" y2="1043.1" stroke-width="1.35"/>
<polyline points="176.35,1055.5 182.6,1049.3 188.85,1055.5" stroke-width="1.35" fill="none"/>
<line x1="182.6" y1="1049.3" x2="182.6" y2="1068.5" stroke-width="1.35"/>
<g class="r" transform="translate(168.63,1053.2) scale(0.7690,1)"><text font-size="12.9"> </text><path class="one" d="M515,0 L515,-1237 L197,-1010 L197,-1180 L530,-1409 L696,-1409 L696,0Z" transform="translate(0,0) scale(0.006299)"/></g>
<g class="b" transform="translate(193.68,1054.9) scale(0.7725,1)"><text font-size="16.3">C308</text></g>
<g class="r" transform="translate(174.15,1083.6) scale(0.7690,1)"><text font-size="12.9">Z77</text></g>
<g class="r" transform="translate(177.08,1098.1) scale(0.7690,1)"><text font-size="12.9">22</text></g>
<g class="r" transform="translate(167.14,1112.6) scale(0.7690,1)"><text font-size="12.9">BK/GY</text></g>
<line x1="182.6" y1="1118.9" x2="182.6" y2="1135" stroke-width="1.35"/>
<circle cx="182.6" cy="1146.4" r="4.6" fill="#000" stroke="none"/>
<line x1="174" y1="1151.1" x2="191.2" y2="1151.1" stroke-width="2.1"/>
<g class="b" transform="translate(193.89,1151.1) scale(0.7629,1)"><text font-size="16.3">G300</text></g>
<g class="r" transform="translate(193.26,1167.4) scale(0.7968,1)"><text font-size="12.9">(8W- 5- 9)</text><path class="one" d="M515,0 L515,-1237 L197,-1010 L197,-1180 L530,-1409 L696,-1409 L696,0Z" transform="translate(27.94,0) scale(0.006299)"/><path class="one" d="M515,0 L515,-1237 L197,-1010 L197,-1180 L530,-1409 L696,-1409 L696,0Z" transform="translate(46.59,0) scale(0.006299)"/></g>
<g class="r" transform="translate(512.61,913.7) scale(0.7690,1)"><text font-size="12.9">Z76</text></g>
<g class="r" transform="translate(515.53,928.9) scale(0.7690,1)"><text font-size="12.9">20</text></g>
<g class="r" transform="translate(514.13,943.4) scale(0.7690,1)"><text font-size="12.9">BK</text></g>
<line x1="521.1" y1="949.6" x2="521.1" y2="964.2" stroke-width="1.35"/>
<polyline points="514.85,958.9 521.1,964.2 527.35,958.9" stroke-width="1.35" fill="none"/>
<polyline points="514.85,964.2 521.1,969.9 527.35,964.2" stroke-width="1.35" fill="none"/>
<line x1="521.1" y1="969.9" x2="521.1" y2="983.4" stroke-width="1.35"/>
<g class="r" transform="translate(504.57,969.5) scale(0.7690,1)"><text font-size="12.9">4</text></g>
<g class="b" transform="translate(532.18,970.4) scale(0.7716,1)"><text font-size="16.3">C325</text></g>
<g class="r" transform="translate(512.61,998.4) scale(0.7690,1)"><text font-size="12.9">Z76</text></g>
<g class="r" transform="translate(515.53,1013.2) scale(0.7690,1)"><text font-size="12.9">20</text></g>
<g class="r" transform="translate(514.13,1027.7) scale(0.7690,1)"><text font-size="12.9">BK</text></g>
<polyline points="514.85,1049.9 521.1,1043.1 527.35,1049.9" stroke-width="1.35" fill="none"/>
<line x1="521.1" y1="1034.1" x2="521.1" y2="1043.1" stroke-width="1.35"/>
<polyline points="514.85,1055.5 521.1,1049.3 527.35,1055.5" stroke-width="1.35" fill="none"/>
<line x1="521.1" y1="1049.3" x2="521.1" y2="1068.5" stroke-width="1.35"/>
<g class="r" transform="translate(507.13,1053.2) scale(0.7690,1)"><text font-size="12.9"> </text><path class="one" d="M515,0 L515,-1237 L197,-1010 L197,-1180 L530,-1409 L696,-1409 L696,0Z" transform="translate(0,0) scale(0.006299)"/></g>
<g class="b" transform="translate(532.18,1054.9) scale(0.7747,1)"><text font-size="16.3">C309</text></g>
<g class="r" transform="translate(512.61,1083.6) scale(0.7690,1)"><text font-size="12.9">Z76</text></g>
<g class="r" transform="translate(515.58,1098.1) scale(0.7690,1)"><text font-size="12.9">22</text></g>
<g class="r" transform="translate(506.8,1112.6) scale(0.7690,1)"><text font-size="12.9">BK/YL</text></g>
<line x1="521.1" y1="1118.9" x2="521.1" y2="1135" stroke-width="1.35"/>
<circle cx="521.1" cy="1146.4" r="4.6" fill="#000" stroke="none"/>
<line x1="512.5" y1="1151.1" x2="529.7" y2="1151.1" stroke-width="2.1"/>
<g class="b" transform="translate(532.36,1151.1) scale(0.8126,1)"><text font-size="16.3">G30 </text><path class="one" d="M478,0 L478,-1170 L140,-959 L140,-1180 L493,-1409 L759,-1409 L759,0Z" transform="translate(30.81,0) scale(0.007959)"/></g>
<g class="r" transform="translate(531.76,1167.4) scale(0.7968,1)"><text font-size="12.9">(8W- 5-23)</text><path class="one" d="M515,0 L515,-1237 L197,-1010 L197,-1180 L530,-1409 L696,-1409 L696,0Z" transform="translate(27.94,0) scale(0.006299)"/></g>
<g class="r" transform="translate(57.97,1173.8) scale(0.8149,1)"><text font-size="12.4">RS406  5</text><path class="one" d="M515,0 L515,-1237 L197,-1010 L197,-1180 L530,-1409 L696,-1409 L696,0Z" transform="translate(37.91,0) scale(0.006055)"/><path class="one" d="M515,0 L515,-1237 L197,-1010 L197,-1180 L530,-1409 L696,-1409 L696,0Z" transform="translate(44.81,0) scale(0.006055)"/></g>
<g class="r" transform="translate(841.7,1173.7) scale(0.8304,1)"><text font-size="12.4">048W-3</text></g>
<g class="w" transform="translate(680.05,1233.3) scale(1.0942,1)"><text font-size="24.8">carmanualsonline.info</text></g>
</svg></body></html>
